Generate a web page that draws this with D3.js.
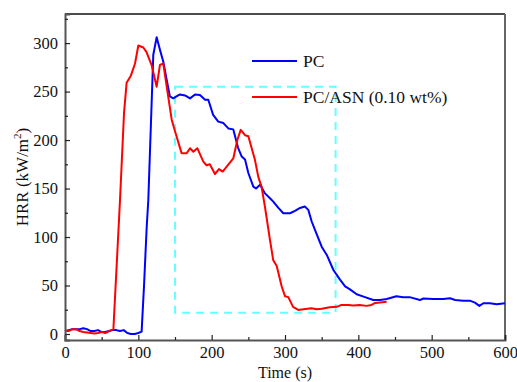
<!DOCTYPE html>
<html><head><meta charset="utf-8">
<script src="https://cdn.jsdelivr.net/npm/d3@7"></script>
<style>body{margin:0;background:#fff}svg{display:block}text{font-family:"Liberation Serif","DejaVu Serif",serif;fill:#111}</style>
</head><body><svg id="c" width="517" height="382"></svg>
<script>
const seriesNames = ["PC", "PC/ASN (0.10 wt%)"];
const tPC = [0,5,10,15,20,25,30,35,40,45,50,55,60,65,70,75,80,85,90,95,100,104.5,107.7,111.4,113.6,120.4,125,129.5,134,138.7,143,147.7,152,156.8,163.6,170.5,177.3,184,191,195.4,202,209,216,222.7,229.5,236,241,245.5,250,256.8,260.5,266,272.7,279.5,284,291,297.7,306.8,313.6,320.5,327,331.8,336.4,341,350,357,366,375,382,388.6,397.7,409,420.4,429.5,438.6,452,461,470,484,488.6,502,516,525,532,543,552,559,565,570.5,579.5,588.6,600];
const hrrPC = [3,4,5,5,5,6,5,3,3,4,2,2,3,4,4,3,4,1,0,0,1,2.4,49,110,138,288,306,293,281,262,245,243,245,247,246,243,247,246.5,241.5,241.5,226,219,217.5,212,211,192,183,180,166,152,150,154,145,140,136.5,130,124.5,124.5,127,130,131.5,128,116,107,90,81.5,66,56,49,46,41,38,35,35,36,39,38,38,35,36.6,36,36,36.8,35,34.4,34.4,32.3,29,31.7,31.7,30.6,31.7];
const tASN = [0,5,10,15,20,25,30,35,40,45,50,55,60,66,75,80.5,84,89.6,95.5,100,106.8,111,118,125,129.5,134,138.7,145.5,150,159,166,170.5,175,180.4,188.6,193,197.5,204.5,210,215,229.5,235,239.6,245.5,250,259,263.6,268,272.7,279.5,284,288.7,295.5,300,304.5,311,318,325,336,343,350,361,370.5,377,386,393,402,411,418,423,429.6,438.6];
const hrrASN = [3,3,5,5,3,2,1.5,1,0.5,1,2,1,3,5,138,228,259,266,279,297.5,295.5,291,277.6,255,277.6,279,255,221,209,186.5,186.5,191.6,188,191.6,177.8,174,175,165,170,167.5,181,200,210.5,205,204,179.6,162,152,131,97,76,70,49,39,38,28,24.8,25.5,26.5,25.5,26,27.5,28,30,30,29.5,30,29,30,32,32.5,33.3];
const boxT = [150, 369];
const boxV = [22, 255];
const xTicks = [0,100,200,300,400,500,600];
const yTicks = [0,50,100,150,200,250,300];

const svg = d3.select("#c");
const L=65, R=505, T=14, B=340;
const x = d3.scaleLinear().domain([0,600]).range([L,R]);
const y = d3.scaleLinear().domain([-6.2,330]).range([B,T]);

svg.append("line").attr("x1",L).attr("x2",R).attr("y1",T).attr("y2",T).attr("stroke","#111").attr("stroke-width",1.3);
svg.append("line").attr("x1",R).attr("x2",R).attr("y1",T).attr("y2",B).attr("stroke","#666").attr("stroke-width",2);

svg.append("rect").attr("x",x(boxT[0])).attr("y",y(boxV[1])).attr("width",x(boxT[1])-x(boxT[0])).attr("height",y(boxV[0])-y(boxV[1]))
  .attr("fill","none").attr("stroke","#66ffff").attr("stroke-width",2).attr("stroke-dasharray","8,6");

const line = d3.line().x(d=>x(d[0])).y(d=>y(d[1]));
svg.append("path").datum(tPC.map((t,i)=>[t,hrrPC[i]])).attr("d",line).attr("fill","none").attr("stroke","#0000ff").attr("stroke-width",2).attr("stroke-linejoin","round");
svg.append("path").datum(tASN.map((t,i)=>[t,hrrASN[i]])).attr("d",line).attr("fill","none").attr("stroke","#ff0000").attr("stroke-width",2).attr("stroke-linejoin","round");

const xa = svg.append("g").attr("transform",`translate(0,${B})`)
  .call(d3.axisBottom(x).tickValues(xTicks).tickSize(-5).tickPadding(6).tickFormat(d3.format("d")));
const xm = svg.append("g").attr("transform",`translate(0,${B})`)
  .call(d3.axisBottom(x).tickValues(d3.range(50,600,100)).tickSize(-3).tickFormat(""));
const ya = svg.append("g").attr("transform",`translate(${L},0)`)
  .call(d3.axisLeft(y).tickValues(yTicks).tickSize(-5).tickPadding(7).tickFormat(d3.format("d")));
const ym = svg.append("g").attr("transform",`translate(${L},0)`)
  .call(d3.axisLeft(y).tickValues(d3.range(25,330,50)).tickSize(-3).tickFormat(""));
[xa,xm,ya,ym].forEach(g=>{
  g.select(".domain").attr("stroke","#555").attr("stroke-width",2);
  g.selectAll(".tick line").attr("stroke","#222").attr("stroke-width",1.2);
  g.selectAll("text").style("font-size","16.5px").attr("fill","#111");
});
xm.select(".domain").remove(); ym.select(".domain").remove();

svg.append("text").attr("x",285).attr("y",377.5).attr("text-anchor","middle").style("font-size","16px").text("Time (s)");
const yt = svg.append("text").attr("transform","translate(28,177) rotate(-90)").attr("text-anchor","middle").style("font-size","17px");
yt.append("tspan").text("HRR (kW/m");
yt.append("tspan").attr("dy",-7).style("font-size","11px").text("2");
yt.append("tspan").attr("dy",7).text(")");

const leg = [{c:"#0000ff",y:61},{c:"#ff0000",y:97}];
leg.forEach((l,i)=>{
  svg.append("line").attr("x1",252).attr("x2",297).attr("y1",l.y).attr("y2",l.y).attr("stroke",l.c).attr("stroke-width",2);
  svg.append("text").attr("x",303).attr("y",l.y+6).style("font-size","17.5px").text(seriesNames[i]);
});
</script></body></html>
